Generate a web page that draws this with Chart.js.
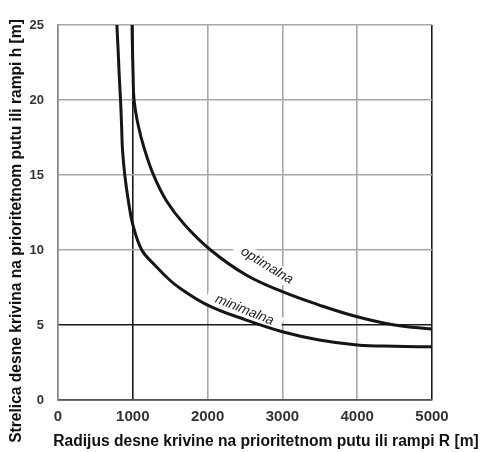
<!DOCTYPE html>
<html>
<head>
<meta charset="utf-8">
<script src="https://cdn.jsdelivr.net/npm/chart.js@4.4.1/dist/chart.umd.min.js"></script>
<style>
  html, body { margin: 0; padding: 0; background: #fff; }
  #wrap { width: 487px; height: 452px; }
</style>
</head>
<body>
<div id="wrap"><canvas id="curveChart"></canvas></div>
<script>
// Values (R in m, h in m)

const minR = [787, 804, 818, 836, 850, 862, 893, 940, 1000, 1120, 1293, 1493, 1627, 2000, 2516, 3000, 3493, 4000, 4500, 5000];
const minH = [25, 23.3, 21.7, 20, 18.3, 16.7, 15, 13.3, 11.7, 10, 9, 8, 7.47, 6.33, 5.33, 4.55, 4.0, 3.67, 3.58, 3.55];

const optR = [990, 996, 1004, 1017, 1073, 1157, 1277, 1447, 1690, 2040, 2516, 3000, 3493, 4000, 4500, 5000];
const optH = [25, 23.3, 21.7, 20, 18.3, 16.7, 15, 13.3, 11.7, 10, 8.33, 7.22, 6.33, 5.55, 5.0, 4.73];

const xTicks = [0, 1000, 2000, 3000, 4000, 5000];
const yTicks = [0, 5, 10, 15, 20, 25];

const xTitle = 'Radijus desne krivine na prioritetnom putu ili rampi R [m]';
const yTitle = 'Strelica desne krivina na prioritetnom putu ili rampi h [m]';

// curve labels: text, R, h where they sit, angle
const curveLabels = [
  { text: 'optimalna', r: 2793, h: 8.95, angle: 31.7, hw: 37, hh: 8 },
  { text: 'minimalna', r: 2493, h: 6.0, angle: 22, hw: 40, hh: 7.5 }
];

function toPoints(xs, ys)
{
  return xs.map((x, i) => ({ x: x, y: ys[i] }));
}

const labelPlugin =
{
  id: 'curveLabels',
  beforeDatasetsDraw(chart)
  {
    const c = chart.ctx;
    const xs = chart.scales.x;
    const ys = chart.scales.y;
    curveLabels.forEach(l =>
    {
      c.save();
      c.translate(xs.getPixelForValue(l.r), ys.getPixelForValue(l.h));
      c.rotate(l.angle * Math.PI / 180);
      c.fillStyle = '#fff';
      c.fillRect(-l.hw, -l.hh, l.hw * 2, l.hh * 2);
      c.restore();
    });
  },
  afterDatasetsDraw(chart)
  {
    const c = chart.ctx;
    const xs = chart.scales.x;
    const ys = chart.scales.y;
    curveLabels.forEach(l =>
    {
      c.save();
      c.translate(xs.getPixelForValue(l.r), ys.getPixelForValue(l.h));
      c.rotate(l.angle * Math.PI / 180);
      c.fillStyle = '#222';
      c.font = 'italic 13.5px "Liberation Sans", Arial, sans-serif';
      c.textAlign = 'center';
      c.textBaseline = 'middle';
      c.fillText(l.text, 0, 0);
      c.restore();
    });
  },
  afterDraw(chart)
  {
    const c = chart.ctx;
    c.save();
    c.fillStyle = '#111';
    c.font = 'bold 15.6px "Liberation Sans", Arial, sans-serif';
    c.textAlign = 'center';
    c.textBaseline = 'middle';
    c.fillText(xTitle, 266, 442);
    c.translate(17, 231);
    c.rotate(-Math.PI / 2);
    c.fillText(yTitle, 0, 0);
    c.restore();
  }
};

const ctx = document.getElementById('curveChart');

new Chart(ctx,
{
  type: 'scatter',
  data:
  {
    datasets:
    [
      {
        label: 'minimalna',
        data: toPoints(minR, minH),
        showLine: true,
        borderColor: '#151515',
        borderWidth: 3,
        pointRadius: 0,
        tension: 0.4
      },
      {
        label: 'optimalna',
        data: toPoints(optR, optH),
        showLine: true,
        borderColor: '#151515',
        borderWidth: 3,
        pointRadius: 0,
        tension: 0.4
      }
    ]
  },
  options:
  {
    responsive: true,
    maintainAspectRatio: false,
    animation: false,
    layout: { padding: { top: 25, right: 55, left: 0, bottom: 0 } },
    plugins:
    {
      legend: { display: false },
      tooltip: { enabled: false }
    },
    scales:
    {
      x:
      {
        type: 'linear',
        min: 0,
        max: 5000,
        afterBuildTicks: s => { s.ticks = xTicks.map(v => ({ value: v })); },
        afterFit: s => { s.height = 52; },
        grid:
        {
          drawTicks: false,
          lineWidth: 1.6,
          color: c => (c.tick && (c.tick.value === 1000 || c.tick.value === 5000)) ? '#1a1a1a' : '#a8a8a8'
        },
        border: { color: '#555', width: 1.6 },
        ticks:
        {
          padding: 8,
          color: '#333',
          callback: v => String(v),
          font: { family: '"Liberation Sans", Arial, sans-serif', size: 15, weight: 'bold' }
        }
      },
      y:
      {
        min: 0,
        max: 25,
        afterBuildTicks: s => { s.ticks = yTicks.map(v => ({ value: v })); },
        afterFit: s => { s.width = 58; },
        grid:
        {
          drawTicks: false,
          lineWidth: 1.6,
          color: c => (c.tick && (c.tick.value === 5 || c.tick.value === 0)) ? '#1a1a1a' : '#a8a8a8'
        },
        border: { color: '#888', width: 1.6 },
        ticks:
        {
          padding: 14,
          color: '#333',
          font: { family: '"Liberation Sans", Arial, sans-serif', size: 13, weight: 'bold' }
        }
      }
    }
  },
  plugins: [labelPlugin]
});
</script>
</body>
</html>
